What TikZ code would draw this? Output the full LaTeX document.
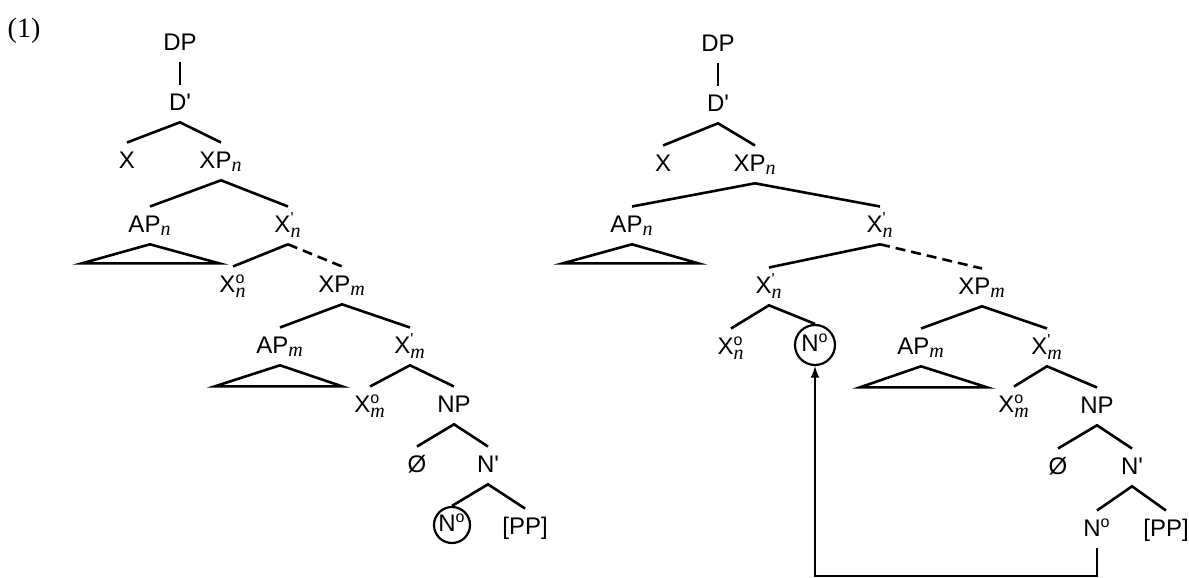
\documentclass[tikz,border=0pt]{standalone}
\usepackage{amsmath}
\usepackage{fontspec}
\setmainfont{Liberation Sans}
\newfontfamily\serifidx{Liberation Serif}
\usepackage{tikz}
\usetikzlibrary{arrows}
\newcommand{\idx}[1]{\text{\fontsize{10}{10}\selectfont\serifidx\itshape #1}}
\newcommand{\Xbar}[1]{X$^{\text{\textquotesingle}}_{\idx{#1}}$}
\newcommand{\Xzero}[1]{X$^{\text{o}}_{\idx{#1}}$}
\newcommand{\Nzero}{N$^{\text{o}}$}

\begin{document}
\begin{tikzpicture}[x=0.5pt, y=-0.5pt, line width=1.3pt, >=latex,
  every node/.style={anchor=base, font=\fontsize{12}{14}\selectfont,
    text height=8.6pt, text depth=2pt, inner xsep=2pt, inner ysep=3.5pt},
  circled/.style={draw, circle, anchor=center, inner sep=0pt,
    minimum size=#1, line width=1.1pt},
  circled/.default=18pt,
  moved/.style={dash pattern=on 5pt off 3pt}]
  \useasboundingbox (0,0) rectangle (1189,578);
  \node[font=\serifidx\fontsize{14}{16}\selectfont] (exnum) at (24,37) {(1)};

  \node (lDP) at (180,50) {DP};
  \node (lDb) at (180,110) {D\textquotesingle};
  \node (lX) at (127,168) {X};
  \node (lXPn) at (221,168) {XP$_{\idx{n}}$};
  \node (lAPn) at (150,232) {AP$_{\idx{n}}$};
  \node (lXbn) at (288,232) {\Xbar{n}};
  \node (lXn0) at (233,292) {\Xzero{n}};
  \node (lXPm) at (342,292) {XP$_{\idx{m}}$};
  \node (lAPm) at (280,353) {AP$_{\idx{m}}$};
  \node (lXbm) at (410,353) {\Xbar{m}};
  \node (lXm0) at (370,412) {\Xzero{m}};
  \node (lNP) at (454,412) {NP};
  \node (lNull) at (417,472) {Ø};
  \node (lNb) at (488,472) {N\textquotesingle};
  \node[circled] (lN0) at (452,525) {\Nzero};
  \node (lPP) at (525,534) {[PP]};

  \draw (lDP.south) -- (lDb.north);
  \draw (lX.north) -- (lDb.south) -- (lXPn.north);
  \draw (lAPn.north) -- (lXPn.south) -- (lXbn.north);
  \draw (lAPn.south) -- ++(-68,19) -- ++(137,0) -- cycle;
  \draw (lXn0.north) -- (lXbn.south);
  \draw[moved] (lXbn.south) -- (lXPm.north);
  \draw (lAPm.north) -- (lXPm.south) -- (lXbm.north);
  \draw (lAPm.south) -- ++(-65,21) -- ++(127,0) -- cycle;
  \draw (lXm0.north) -- (lXbm.south) -- (lNP.north);
  \draw (lNull.north) -- (lNP.south) -- (lNb.north);
  \draw (lN0.north) -- (lNb.south) -- (lPP.north);

  \node (rDP) at (718,51) {DP};
  \node (rDb) at (718,111) {D\textquotesingle};
  \node (rX) at (663,171) {X};
  \node (rXPn) at (755,171) {XP$_{\idx{n}}$};
  \node (rAPn) at (632,232) {AP$_{\idx{n}}$};
  \node (rXbn) at (880,232) {\Xbar{n}};
  \node (rXbn2) at (769,293) {\Xbar{n}};
  \node (rXPm) at (982,294) {XP$_{\idx{m}}$};
  \node (rXn0) at (731,354) {\Xzero{n}};
  \node[circled=20pt] (rNhead) at (815,345) {\Nzero};
  \node (rAPm) at (921,354) {AP$_{\idx{m}}$};
  \node (rXbm) at (1047,354) {\Xbar{m}};
  \node (rXm0) at (1014,412) {\Xzero{m}};
  \node (rNP) at (1097,413) {NP};
  \node (rNull) at (1058,474) {Ø};
  \node (rNb) at (1132,474) {N\textquotesingle};
  \node (rN0) at (1097,536) {\Nzero};
  \node (rPP) at (1166,536) {[PP]};
  \coordinate (mvbot) at (815,576);

  \draw (rDP.south) -- (rDb.north);
  \draw (rX.north) -- (rDb.south) -- (rXPn.north);
  \draw (rAPn.north) -- (rXPn.south) -- (rXbn.north);
  \draw (rAPn.south) -- ++(-69,19) -- ++(135,0) -- cycle;
  \draw (rXbn2.north) -- (rXbn.south);
  \draw[moved] (rXbn.south) -- (rXPm.north);
  \draw (rXn0.north) -- (rXbn2.south) -- (rNhead.north);
  \draw (rAPm.north) -- (rXPm.south) -- (rXbm.north);
  \draw (rAPm.south) -- ++(-61,21) -- ++(127,0) -- cycle;
  \draw (rXm0.north) -- (rXbm.south) -- (rNP.north);
  \draw (rNull.north) -- (rNP.south) -- (rNb.north);
  \draw (rN0.north) -- (rNb.south) -- (rPP.north);
  \draw[->, line width=1pt] (rN0.south) |- (mvbot) -- (rNhead.south);
\end{tikzpicture}
\end{document}
